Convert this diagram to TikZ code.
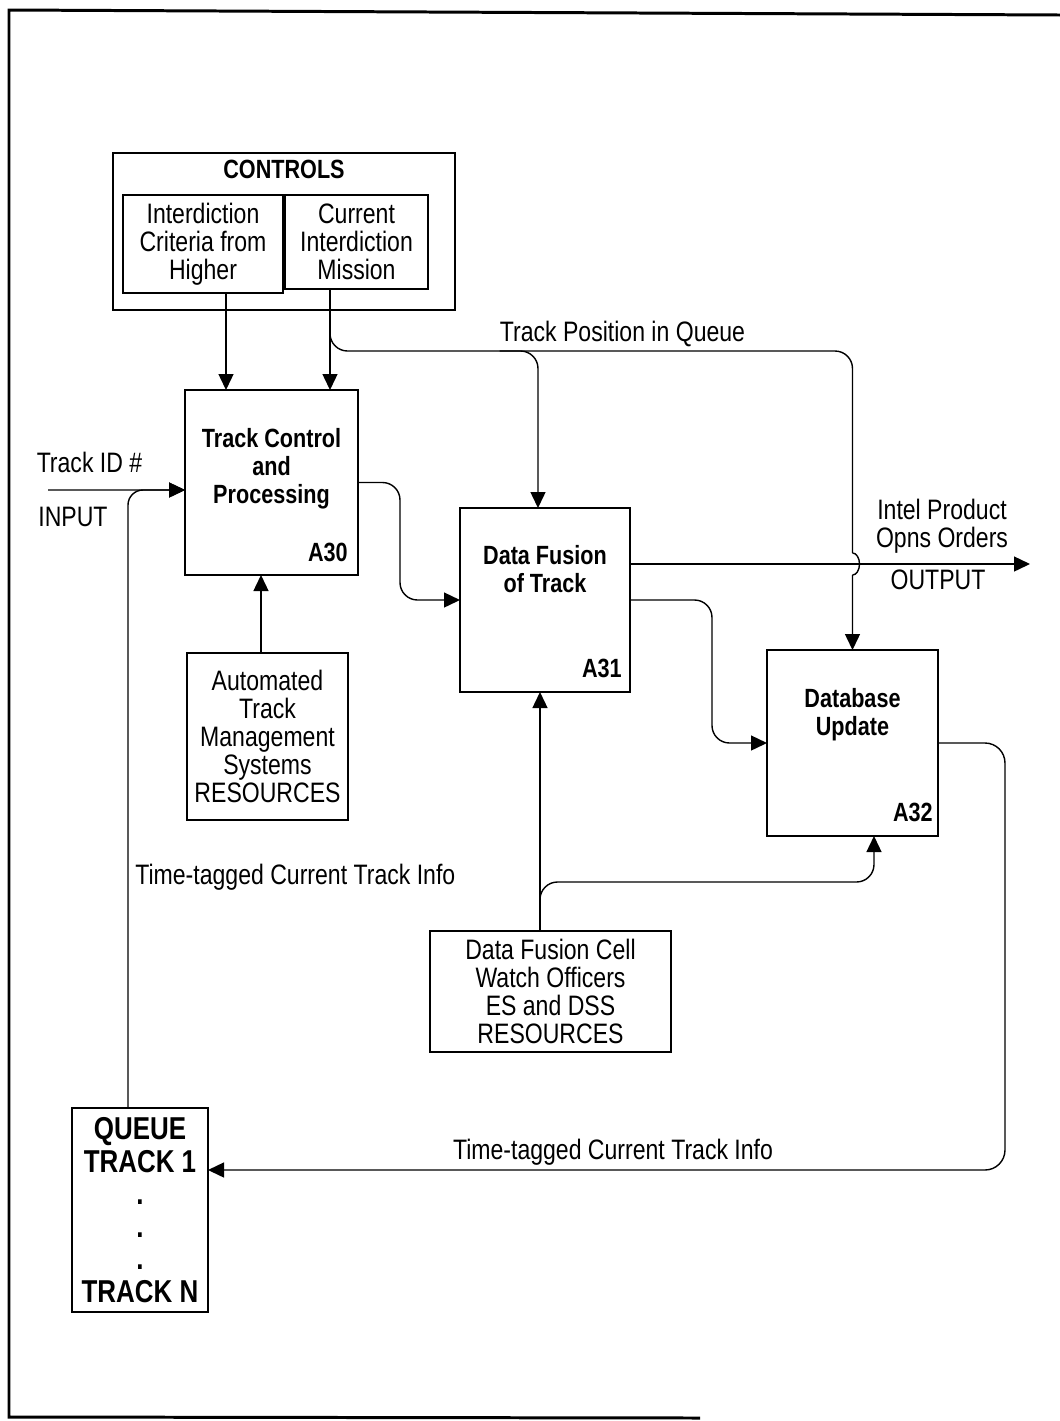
\documentclass[tikz,border=0pt]{standalone}
\usepackage{fontspec}
\setmainfont{Liberation Sans}[FakeStretch=0.82]
\usepackage{tikz}
\usetikzlibrary{positioning,arrows.meta}

\newcommand{\txtfont}{\fontsize{16}{16}\selectfont}
\newcommand{\hdfont}{\fontsize{15}{16}\selectfont\bfseries}
\newcommand{\qfont}{\fontsize{18}{18.5}\selectfont\bfseries}

\begin{document}
\begin{tikzpicture}[
    node distance=0.5cm,
    proc/.style={rectangle, draw, line width=1.6pt, inner sep=0, outer sep=0},
    res/.style={rectangle, draw, line width=0.8pt, align=center, font=\txtfont, inner sep=0, outer sep=0},
    boxtitle/.style={align=center, font=\hdfont, inner sep=0},
    idlbl/.style={font=\hdfont, inner sep=0},
    lbl/.style={align=center, font=\txtfont, inner sep=0},
    flow/.style={line width=0.8pt, -{Triangle[length=0.32cm, width=0.3cm]}},
    conn/.style={line width=0.8pt}
]
\useasboundingbox (0,0) rectangle (21.2,-28.42);

% Frame
\draw[line width=1.7pt] (21.2,-0.3) -- (0.18,-0.2) -- (0.18,-28.34) -- (14,-28.36);

% Activities
\node[proc, minimum width=3.46cm, minimum height=3.7cm] (a30) at (5.43,-9.65) {};
\node[proc, minimum width=3.4cm, minimum height=3.68cm, right=2.04cm of a30, yshift=-2.35cm] (a31) {};
\node[proc, minimum width=3.42cm, minimum height=3.72cm, right=2.74cm of a31, yshift=-2.86cm] (a32) {};

\node[boxtitle, below=0.76cm of a30.north] (a30t) {Track Control\\and\\Processing};
\node[boxtitle, below=0.74cm of a31.north] (a31t) {Data Fusion\\of Track};
\node[boxtitle, below=0.76cm of a32.north] (a32t) {Database\\Update};

\node[idlbl, above left=0.26cm and 0.2cm of a30.south east] (a30id) {A30};
\node[idlbl, above left=0.28cm and 0.16cm of a31.south east] (a31id) {A31};
\node[idlbl, above left=0.28cm and 0.1cm of a32.south east] (a32id) {A32};

% Controls
\node[res, minimum width=6.84cm, minimum height=3.14cm, above=1.6cm of a30, xshift=0.25cm] (ctrl) {};
\node[boxtitle, below=0.14cm of ctrl.north] (ctrlt) {CONTROLS};
\node[res, minimum width=3.2cm, minimum height=1.96cm, below right=0.84cm and 0.2cm of ctrl.north west] (crit) {Interdiction\\Criteria from\\Higher};
\node[res, minimum width=2.86cm, minimum height=1.88cm, right=0.04cm of crit.north east, anchor=north west] (miss) {Current\\Interdiction\\Mission};

% Resources
\node[res, minimum width=3.22cm, minimum height=3.34cm, below=1.56cm of a30, xshift=-0.08cm] (res1) {Automated\\Track\\Management\\Systems\\RESOURCES};
\node[res, minimum width=4.82cm, minimum height=2.42cm, below=4.78cm of a31, xshift=0.11cm] (res2) {Data Fusion Cell\\Watch Officers\\ES and DSS\\RESOURCES};

% Queue
\node[res, font=\qfont, minimum width=2.72cm, minimum height=4.08cm] (queue) at (2.8,-24.2) {QUEUE\\TRACK 1\\.\\.\\.\\TRACK N};

% Labels
\coordinate (in) at (0.96,-9.8);
\coordinate (outpt) at (20.6,-11.28);
\node[lbl] (tid) at (1.79,-9.24) {Track ID \#};
\node[lbl] (inlbl) at (1.46,-10.34) {INPUT};
\node[lbl, inner ysep=0.08cm, anchor=south] (qpos) at (12.45,-7.02) {Track Position in Queue};
\node[lbl] (intel) at (18.84,-10.52) {Intel Product\\Opns Orders};
\node[lbl] (outlbl) at (18.76,-11.6) {OUTPUT};
\node[lbl, anchor=west] (tt1) at (2.7,-17.54) {Time-tagged Current Track Info};
\node[lbl] (tt2) at (12.26,-23.04) {Time-tagged Current Track Info};

% Arrows
\draw[flow] ([xshift=0.46cm]crit.south) coordinate (c1) -- (c1 |- a30.north);
\draw[flow] ([xshift=-0.53cm]miss.south) coordinate (c2) -- (c2 |- a30.north);
\draw[flow, rounded corners=0.35cm] (c2) |- (qpos.south) -| (a32.north);
\draw[flow, rounded corners=0.35cm] (qpos.south west) -| ([xshift=-0.14cm]a31.north);

\draw[flow] (in) -- ([yshift=-0.15cm]a30.west);
\draw[flow, rounded corners=0.3cm] ([xshift=-0.24cm]queue.north) |- ([yshift=-0.15cm]a30.west);
\draw[flow] ([xshift=-0.13cm]res1.north) coordinate (c4) -- (c4 |- a30.south);
\draw[flow, rounded corners=0.35cm] (a30.east) -- ++(0.84,0) |- (a31.west);
\draw[flow, rounded corners=0.35cm] (a31.east) -- ++(1.64,0) |- (a32.west);
\draw[flow, rounded corners=0.4cm] (a32.east) -- ++(1.34,0) |- ([yshift=0.8cm]queue.east);
\draw[flow] ([xshift=-0.21cm]res2.north) coordinate (c5) -- (c5 |- a31.south);
\draw[flow, rounded corners=0.35cm] (c5) -- ++(0,0.98) -| ([xshift=0.43cm]a32.south);

% Output with hop over the queue line
\coordinate (hop) at (a32.north |- outpt);
\draw[white, line width=2.5pt] ([yshift=0.22cm]hop) -- ([yshift=-0.22cm]hop);
\draw[conn] ([yshift=0.22cm]hop) arc[start angle=90, end angle=-90, x radius=0.14cm, y radius=0.22cm];
\draw[flow] ([yshift=0.72cm]a31.east) coordinate (c3) -- (c3 -| outpt);

\end{tikzpicture}
\end{document}
